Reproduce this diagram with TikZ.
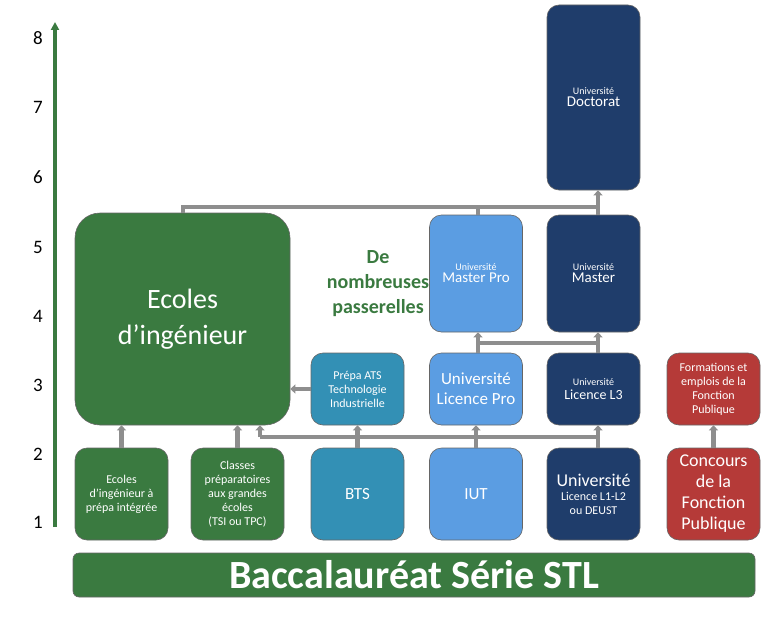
\documentclass[tikz,border=0pt]{standalone}
\usepackage{fontspec}
\setmainfont{Carlito}
\usetikzlibrary{arrows.meta, positioning}
\definecolor{vert}{HTML}{3A7A40}
\definecolor{turq}{HTML}{3390B5}
\definecolor{bleu}{HTML}{5B9DE2}
\definecolor{marine}{HTML}{1F3D6B}
\definecolor{rouge}{HTML}{B53A38}
\definecolor{gris}{HTML}{8E8E8E}

\begin{document}
\begin{tikzpicture}[x=1pt, y=-1pt,
    box/.style={draw=black!60, line width=0.6pt, rounded corners=12pt, text=white, align=center, inner sep=2pt},
    small/.style={box, minimum width=93pt, minimum height=92pt, font=\fontsize{12}{14}\selectfont},
    mid/.style={box, minimum width=93pt, minimum height=72pt, font=\fontsize{12}{14}\selectfont},
    link/.style={gris, line width=4.5pt},
    up/.style={link, -{Triangle[length=5pt, width=9pt]}}]

    \useasboundingbox (0,0) rectangle (768,626);

    % axe
    \draw[line width=4pt, vert, -{Triangle[length=8pt, width=8pt]}] (55,527) -- (55,22);
    \foreach \n/\y in {8/38,7/107,6/177,5/247,4/316,3/385,2/454,1/522}
        \node[font=\fontsize{19}{19}\selectfont] at (38,\y) (lvl\n) {\n};

    % bac
    \node[box, fill=vert, minimum width=682pt, minimum height=44pt, rounded corners=6pt,
        font=\fontsize{40}{40}\selectfont\bfseries] at (414,575) (bac) {Baccalauréat Série STL};

    % niveau 1-2
    \node[small, fill=vert] at (121.5,494) (prepa) {Ecoles\\d’ingénieur à\\prépa intégrée};
    \node[small, fill=vert] at (237.5,494) (cpge) {Classes\\préparatoires\\aux grandes\\écoles\\(TSI ou TPC)};
    \node[small, fill=turq, font=\fontsize{17}{17}\selectfont] at (357.5,494) (bts) {BTS};
    \node[small, fill=bleu, font=\fontsize{17}{17}\selectfont] at (476,494) (iut) {IUT};
    \node[small, fill=marine] at (593.5,494) (lic12) {{\fontsize{18}{20}\selectfont Université}\\Licence L1-L2\\ou DEUST};
    \node[small, fill=rouge, font=\fontsize{18}{21}\selectfont] at (713.5,494) (concours) {Concours\\de la\\Fonction\\Publique};

    % niveau 3
    \node[mid, fill=turq] at (357.5,389) (ats) {Prépa ATS\\Technologie\\Industrielle};
    \node[mid, fill=bleu, font=\fontsize{17}{20}\selectfont] at (476,389) (licpro) {Université\\Licence Pro};
    \node[mid, fill=marine] at (593.5,389) (l3) {{\fontsize{10}{12}\selectfont Université}\\{\fontsize{14}{16}\selectfont Licence L3}};
    \node[mid, fill=rouge] at (713.5,389) (formations) {Formations et\\emplois de la\\Fonction\\Publique};

    % ingenieur
    \node[box, fill=vert, minimum width=215pt, minimum height=212pt, rounded corners=25pt,
        font=\fontsize{28}{36}\selectfont] at (182.5,319) (ecoles) {Ecoles\\d’ingénieur};

    % master / doctorat
    \node[box, fill=bleu, minimum width=93pt, minimum height=117pt] at (476,273.5) (mpro)
        {{\fontsize{10}{12}\selectfont Université}\\{\fontsize{15}{17}\selectfont Master Pro}};
    \node[box, fill=marine, minimum width=93pt, minimum height=117pt] at (593.5,273.5) (master)
        {{\fontsize{10}{12}\selectfont Université}\\{\fontsize{15}{17}\selectfont Master}};
    \node[box, fill=marine, minimum width=93pt, minimum height=185pt] at (593.5,97.5) (doct)
        {{\fontsize{10}{12}\selectfont Université}\\{\fontsize{15}{17}\selectfont Doctorat}};

    \node[text=vert, align=center, font=\fontsize{20}{25}\selectfont\bfseries] at (378,284) (passe)
        {De\\nombreuses\\passerelles};

    % passerelles
    \coordinate (b1) at (260,437);
    \coordinate (b2) at (598,437);
    \coordinate (m1) at (478,343);
    \coordinate (m2) at (598,343);
    \coordinate (t1) at (183,207);
    \coordinate (t2) at (598,207);

    \draw[up] (prepa.north) -- (prepa.north |- ecoles.south);
    \draw[up] (cpge.north) -- (cpge.north |- ecoles.south);
    \draw[link] (b1) -- (b2);
    \draw[link] (lic12.north -| b2) -- (b2);
    \draw[link] (bts.north) -- (bts.north |- b1);
    \draw[link] (iut.north) -- (iut.north |- b1);
    \draw[up] (b1) -- (b1 |- ecoles.south);
    \draw[up] (bts.north |- b1) -- (ats.south);
    \draw[up] (iut.north |- b1) -- (licpro.south);
    \draw[up] (b2) -- (b2 |- l3.south);
    \draw[up] (ats.west) -- (ecoles.east |- ats.west);
    \draw[up] (concours.north) -- (formations.south);

    \draw[link] (m1) -- (m2);
    \draw[link] (licpro.north -| m1) -- (m1);
    \draw[link] (l3.north -| m2) -- (m2);
    \draw[up] (m1) -- (m1 |- mpro.south);
    \draw[up] (m2) -- (m2 |- master.south);

    \draw[link] (t1 |- ecoles.north) -- (t1) -- (t2);
    \draw[link] (mpro.north -| m1) -- (m1 |- t1);
    \draw[up] (master.north -| t2) -- (t2 |- doct.south);

\end{tikzpicture}
\end{document}
